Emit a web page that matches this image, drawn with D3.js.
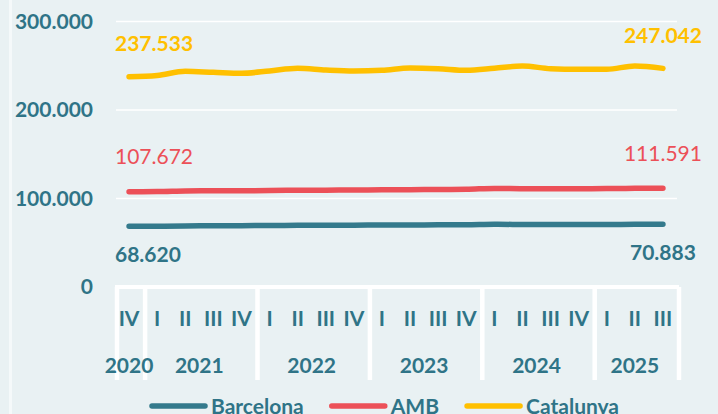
<!DOCTYPE html>
<html>
<head>
<meta charset="utf-8">
<script src="https://cdn.jsdelivr.net/npm/d3@7"></script>
<style>
  body { margin: 0; background: #e9f1f3; }
  svg { display: block; font-family: Lato, "Open Sans", sans-serif; }
</style>
</head>
<body>
<svg width="718" height="414"></svg>
<script>
// periods: quarters grouped by year
var years = ["2020", "2021", "2022", "2023", "2024", "2025"];
var yearQuarters = [
  ["IV"],
  ["I", "II", "III", "IV"],
  ["I", "II", "III", "IV"],
  ["I", "II", "III", "IV"],
  ["I", "II", "III", "IV"],
  ["I", "II", "III"]
];

var seriesNames = ["Barcelona", "AMB", "Catalunya"];
var seriesColors = ["#347a8c", "#ec5058", "#ffc000"];

var barcelona = [68620, 68700, 69000, 69200, 69300, 69500, 69700, 69800, 69900, 70000,
                 70100, 70200, 70300, 70900, 70600, 70500, 70600, 70700, 70800, 70883];
var amb = [107672, 107800, 108500, 108700, 108800, 109000, 109300, 109400, 109600, 109800,
           110000, 110200, 110400, 111400, 111000, 110900, 111000, 111200, 111500, 111591];
var catalunya = [237533, 239000, 243700, 242600, 241500, 244100, 247100, 245200, 244100, 244900,
                 247500, 246700, 244900, 247100, 249700, 246700, 246000, 246000, 249700, 247042];

var yTicks = [0, 100000, 200000, 300000];

var teal = "#2f7487";

var svg = d3.select("svg");

var locale = d3.formatLocale({decimal: ",", thousands: ".", grouping: [3], currency: ["", "€"]});
var fmt = locale.format(",d");

// flatten periods
var periods = [];
yearQuarters.forEach(function(qs, yi) {
  qs.forEach(function(q) { periods.push({year: years[yi], q: q, i: periods.length}); });
});

var x = d3.scaleBand()
    .domain(periods.map(function(d) { return d.i; }))
    .range([115, 677])
    .padding(0);

var y = d3.scaleLinear()
    .domain([0, 300000])
    .range([287, 21.5]);

var cx = function(i) { return x(i) + x.bandwidth() / 2; };

// left light stripe
svg.append("rect")
    .attr("x", 9).attr("y", 0)
    .attr("width", 3).attr("height", 414)
    .attr("fill", "#ffffff").attr("opacity", 0.55);

// gridlines
svg.append("g")
  .selectAll("line")
  .data(yTicks.filter(function(d) { return d > 0; }))
  .enter().append("line")
    .attr("x1", 116).attr("x2", 677)
    .attr("y1", function(d) { return y(d); })
    .attr("y2", function(d) { return y(d); })
    .attr("stroke", "#ffffff")
    .attr("stroke-width", 1.6);

// y axis labels
var yAxis = svg.append("g")
    .attr("transform", "translate(93,0)")
    .call(d3.axisLeft(y).tickValues(yTicks).tickSize(0).tickPadding(0).tickFormat(fmt));
yAxis.select(".domain").remove();
yAxis.selectAll("text")
    .attr("fill", teal)
    .attr("font-size", 21)
    .attr("font-weight", "bold")
    .attr("font-family", "Lato, sans-serif");

// category axis: zero line and year separators
svg.append("line")
    .attr("x1", 115).attr("x2", 679)
    .attr("y1", y(0)).attr("y2", y(0))
    .attr("stroke", "#ffffff").attr("stroke-width", 4);

var yearStart = [];
var acc = 0;
yearQuarters.forEach(function(qs) { yearStart.push(acc); acc += qs.length; });

var bounds = yearStart.map(function(s) { return x(s); }).concat([x.range()[1]]);
svg.append("g")
  .selectAll("line")
  .data(bounds)
  .enter().append("line")
    .attr("x1", function(d) { return d + 2; })
    .attr("x2", function(d) { return d + 2; })
    .attr("y1", y(0)).attr("y2", 380)
    .attr("stroke", "#ffffff").attr("stroke-width", 4.5);

// quarter labels
svg.append("g")
  .selectAll("text")
  .data(periods)
  .enter().append("text")
    .attr("x", function(d) { return cx(d.i); })
    .attr("y", 318)
    .attr("dy", "0.36em")
    .attr("text-anchor", "middle")
    .attr("fill", teal)
    .attr("font-size", 21)
    .attr("font-weight", "bold")
    .text(function(d) { return d.q; });

// year labels
svg.append("g")
  .selectAll("text")
  .data(years)
  .enter().append("text")
    .attr("x", function(d, i) {
      var s = yearStart[i], e = s + yearQuarters[i].length;
      return (x(s) + (e < periods.length ? x(e) : x.range()[1])) / 2;
    })
    .attr("y", 365)
    .attr("dy", "0.36em")
    .attr("text-anchor", "middle")
    .attr("fill", teal)
    .attr("font-size", 21)
    .attr("font-weight", "bold")
    .text(function(d) { return d; });

// lines
var allSeries = [barcelona, amb, catalunya];
var line = d3.line()
    .x(function(d, i) { return cx(i); })
    .y(function(d) { return y(d); })
    .curve(d3.curveMonotoneX);

svg.append("g")
  .selectAll("path")
  .data(allSeries)
  .enter().append("path")
    .attr("d", line)
    .attr("fill", "none")
    .attr("stroke", function(d, i) { return seriesColors[i]; })
    .attr("stroke-width", 5.5)
    .attr("stroke-linecap", "round")
    .attr("stroke-linejoin", "round");

// end labels: first and last value of each series
var labelDefs = [
  {s: 0, dy: 28, weight: "bold", color: teal},
  {s: 1, dy: -35, weight: "normal", color: seriesColors[1]},
  {s: 2, dy: -33, weight: "bold", color: seriesColors[2]}
];
var last = periods.length - 1;
labelDefs.forEach(function(l) {
  var vals = allSeries[l.s];
  [[0, "start"], [last, "middle"]].forEach(function(p) {
    var i = p[0];
    svg.append("text")
        .attr("x", p[1] === "start" ? x(i) : cx(i))
        .attr("y", y(vals[i]) + l.dy)
        .attr("dy", "0.36em")
        .attr("text-anchor", p[1])
        .attr("fill", l.color)
        .attr("font-size", 21)
        .attr("font-weight", l.weight)
        .text(fmt(vals[i]));
  });
});

// legend
var legend = svg.append("g").attr("transform", "translate(150,406)");
var lx = 0;
seriesNames.forEach(function(name, i) {
  var g = legend.append("g").attr("transform", "translate(" + lx + ",0)");
  g.append("line")
      .attr("x1", 2).attr("x2", 55)
      .attr("stroke", seriesColors[i])
      .attr("stroke-width", 5.5)
      .attr("stroke-linecap", "round");
  var t = g.append("text")
      .attr("x", 61)
      .attr("dy", "0.36em")
      .attr("fill", teal)
      .attr("font-size", 21)
      .attr("font-weight", "bold")
      .text(name);
  lx += 61 + t.node().getComputedTextLength() + 26;
});
</script>
</body>
</html>
